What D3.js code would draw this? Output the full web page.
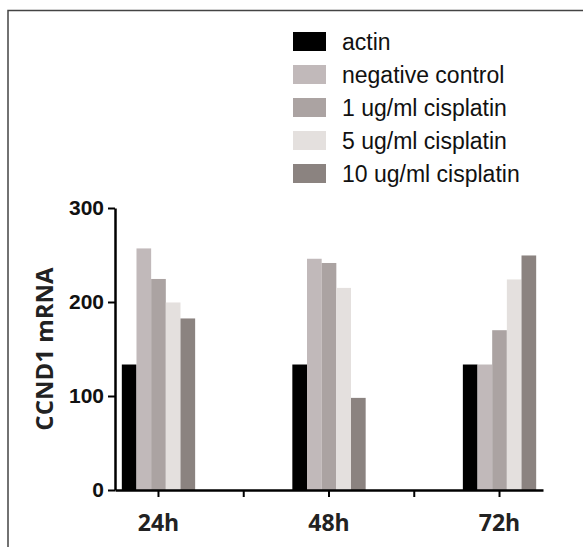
<!DOCTYPE html>
<html>
<head>
<meta charset="utf-8">
<script src="https://cdn.jsdelivr.net/npm/d3@7"></script>
<style>
  html, body { margin: 0; padding: 0; background: #fff; }
</style>
</head>
<body>
<script>
const timepoints = ["24h", "48h", "72h"];
const seriesNames = ["actin", "negative control", "1 ug/ml cisplatin", "5 ug/ml cisplatin", "10 ug/ml cisplatin"];
const actin = [133.5, 133.5, 133.5];
const negativeControl = [257, 246, 133.5];
const cisplatin1 = [224.5, 241.5, 170];
const cisplatin5 = [199.5, 215, 224];
const cisplatin10 = [182.5, 98, 249.5];
const yTicks = [0, 100, 200, 300];
const colors = ["#000000", "#c1b9ba", "#aba3a2", "#e4e0de", "#8b8380"];

const seriesValues = [actin, negativeControl, cisplatin1, cisplatin5, cisplatin10];
const rows = timepoints.map((t, i) => ({
  time: t,
  values: seriesNames.map((s, j) => ({ series: s, value: seriesValues[j][i] }))
}));

const W = 583, H = 547;
const margin = { top: 208, right: 40, bottom: 57, left: 115 };

const svg = d3.select("body").append("svg")
  .attr("width", W)
  .attr("height", H)
  .style("display", "block")
  .style("background", "#fff");

// frame (only top and left edges fall inside the picture)
svg.append("path")
  .attr("d", `M8,${H}V10.5H${W}`)
  .attr("fill", "none")
  .attr("stroke", "#444")
  .attr("stroke-width", 1.5);

const x0 = d3.scaleBand()
  .domain(timepoints)
  .range([margin.left, W - margin.right])
  .paddingInner(0.57)
  .paddingOuter(0.04);

const x1 = d3.scaleBand()
  .domain(seriesNames)
  .range([0, x0.bandwidth()]);

const y = d3.scaleLinear()
  .domain([0, 300])
  .range([H - margin.bottom, margin.top]);

const color = d3.scaleOrdinal().domain(seriesNames).range(colors);

// bars
svg.append("g")
  .selectAll("g")
  .data(rows)
  .join("g")
  .attr("transform", d => `translate(${x0(d.time)},0)`)
  .selectAll("rect")
  .data(d => d.values)
  .join("rect")
  .attr("x", d => x1(d.series))
  .attr("width", x1.bandwidth())
  .attr("y", d => y(d.value))
  .attr("height", d => y(0) - y(d.value))
  .attr("fill", d => color(d.series));

// x axis
const xAxis = svg.append("g")
  .attr("transform", `translate(0,${y(0)})`)
  .call(d3.axisBottom(x0).tickSize(7).tickSizeOuter(0).tickPadding(18));
xAxis.select(".domain").attr("stroke-width", 2.5);
xAxis.selectAll(".tick line").attr("stroke-width", 2);
xAxis.selectAll("text")
  .attr("font-family", "'Open Sans', sans-serif")
  .attr("font-weight", 700)
  .attr("font-size", 23)
  .attr("fill", "#222");

// minor ticks between the groups
const centers = timepoints.map(t => x0(t) + x0.bandwidth() / 2);
svg.append("g")
  .selectAll("line")
  .data(d3.pairs(centers))
  .join("line")
  .attr("x1", d => (d[0] + d[1]) / 2)
  .attr("x2", d => (d[0] + d[1]) / 2)
  .attr("y1", y(0))
  .attr("y2", y(0) + 7)
  .attr("stroke", "#000")
  .attr("stroke-width", 2);

// y axis
const yAxis = svg.append("g")
  .attr("transform", `translate(${margin.left},0)`)
  .call(d3.axisLeft(y).tickValues(yTicks).tickSize(7).tickSizeOuter(0).tickPadding(4));
yAxis.select(".domain").attr("stroke-width", 2.5);
yAxis.selectAll(".tick line").attr("stroke-width", 2);
yAxis.selectAll("text")
  .attr("font-family", "'Liberation Sans', Arial, sans-serif")
  .attr("font-weight", 700)
  .attr("font-size", 21)
  .attr("fill", "#111");

svg.append("text")
  .attr("transform", `translate(53,${(y(0) + y(300)) / 2}) rotate(-90)`)
  .attr("text-anchor", "middle")
  .attr("font-family", "'Open Sans', sans-serif")
  .attr("font-weight", 700)
  .attr("font-size", 24)
  .attr("fill", "#222")
  .text("CCND1 mRNA");

// legend
const legend = svg.append("g")
  .attr("transform", "translate(293,32)")
  .selectAll("g")
  .data(seriesNames)
  .join("g")
  .attr("transform", (d, i) => `translate(0,${i * 33})`);

legend.append("rect")
  .attr("width", 33)
  .attr("height", 19)
  .attr("fill", d => color(d));

legend.append("text")
  .attr("x", 49)
  .attr("y", 18)
  .attr("font-family", "'Liberation Sans', Arial, sans-serif")
  .attr("font-size", 23)
  .attr("fill", "#111")
  .text(d => d);
</script>
</body>
</html>
